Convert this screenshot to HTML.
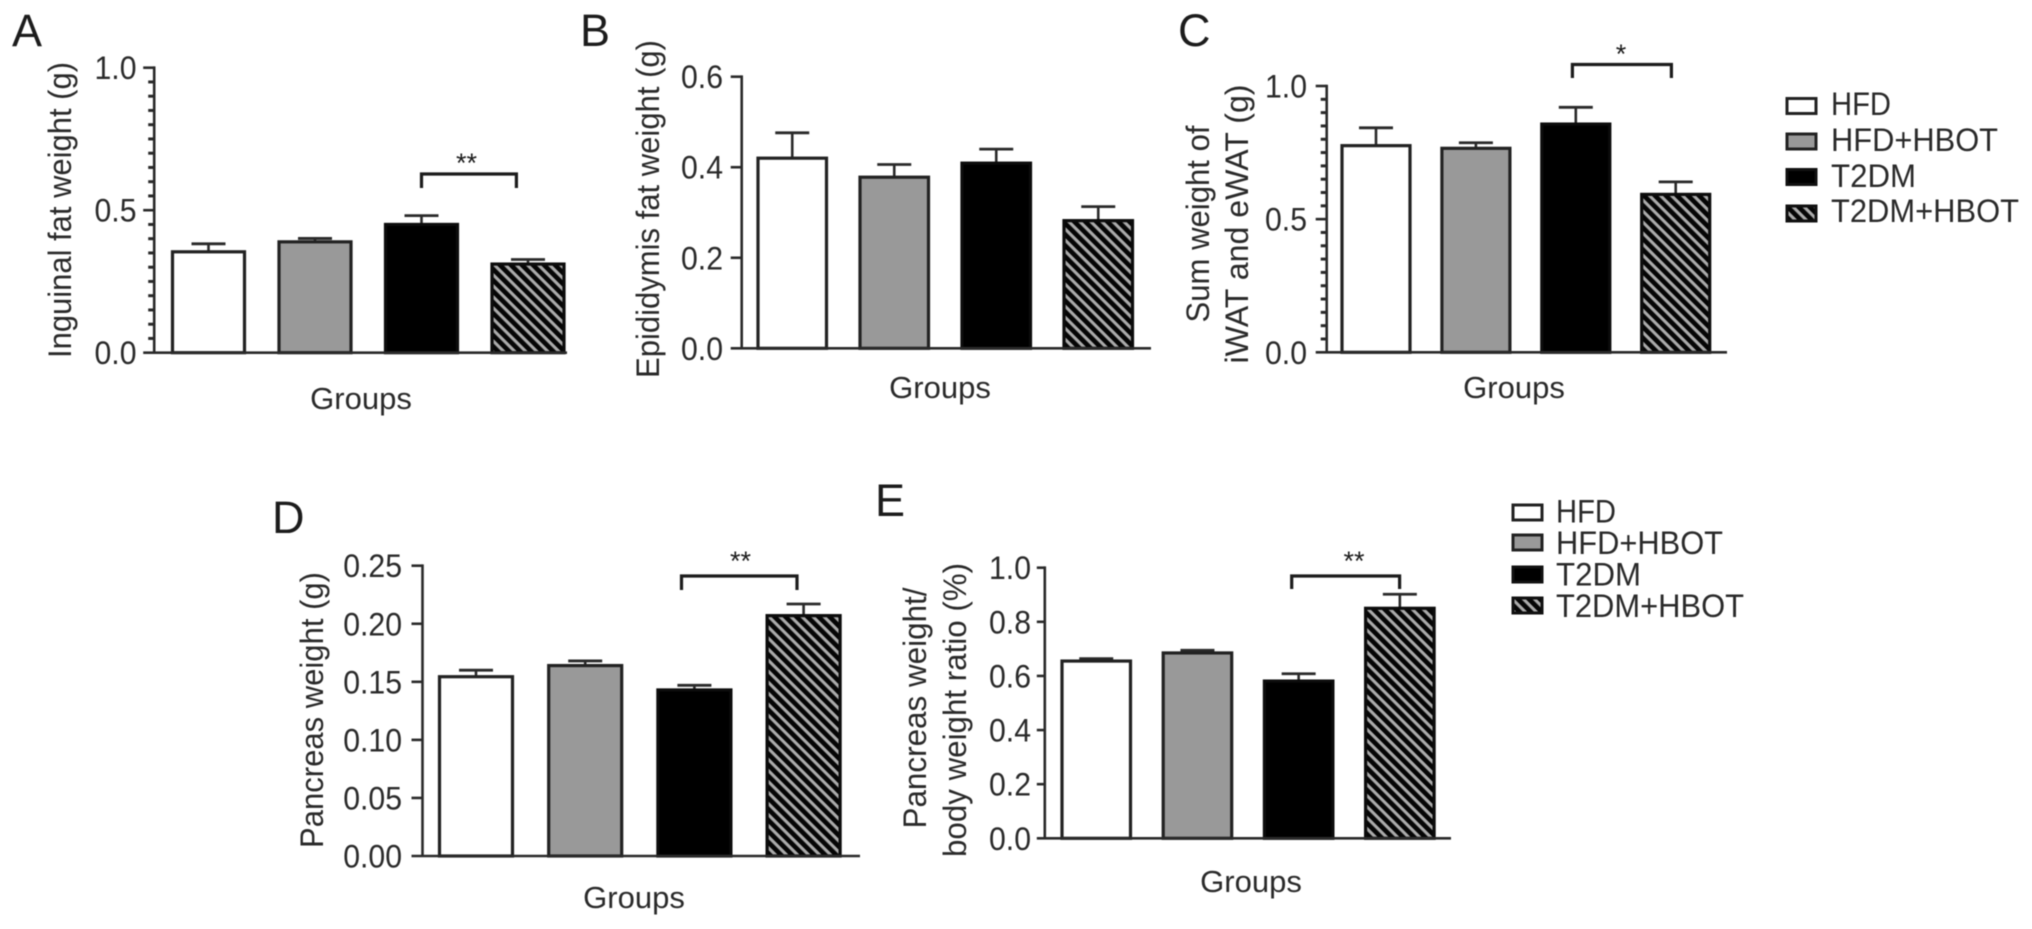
<!DOCTYPE html>
<html lang="en">
<head>
<meta charset="utf-8">
<title>Fat and pancreas weight by group</title>
<style>
html,body{margin:0;padding:0;background:#fff;width:2032px;height:929px;overflow:hidden}
svg{display:block;filter:blur(0.6px)}
text{font-family:"Liberation Sans",sans-serif;fill:#2a2a2a}
.letter{font-size:45px;fill:#1c1c1c}
.title{font-size:32px}
.tick{font-size:32px;text-anchor:end}
.xt{font-size:31px;text-anchor:middle}
.leg{font-size:32px}
.star{font-size:27px;text-anchor:middle;fill:#1c1c1c}
</style>
</head>
<body>
<svg id="figure" xmlns="http://www.w3.org/2000/svg" width="2032" height="929" viewBox="0 0 2032 929">
<defs>
<pattern id="hatch" patternUnits="userSpaceOnUse" width="7.8" height="7.8" patternTransform="rotate(45)">
<rect width="7.8" height="7.8" fill="#050505"/>
<rect width="7.8" height="3.1" fill="#ababab"/>
</pattern>
</defs>
<rect width="2032" height="929" fill="#fff"/>

<text class="letter" x="12" y="46">A</text>
<text class="letter" x="580" y="46">B</text>
<text class="letter" x="1178" y="46">C</text>
<text class="letter" x="272" y="533">D</text>
<text class="letter" x="875" y="516">E</text>

<text class="title" transform="translate(71,210) rotate(-90)" text-anchor="middle" textLength="296" lengthAdjust="spacingAndGlyphs">Inguinal fat weight (g)</text>
<text class="title" transform="translate(659,209) rotate(-90)" text-anchor="middle" textLength="338" lengthAdjust="spacingAndGlyphs">Epididymis fat weight (g)</text>
<text class="title" transform="translate(1209,224) rotate(-90)" text-anchor="middle" textLength="197" lengthAdjust="spacingAndGlyphs">Sum weight of</text>
<text class="title" transform="translate(1248,224) rotate(-90)" text-anchor="middle" textLength="279" lengthAdjust="spacingAndGlyphs">iWAT and eWAT (g)</text>
<text class="title" transform="translate(323,710) rotate(-90)" text-anchor="middle" textLength="276" lengthAdjust="spacingAndGlyphs">Pancreas weight (g)</text>
<text class="title" transform="translate(926,708) rotate(-90)" text-anchor="middle" textLength="241" lengthAdjust="spacingAndGlyphs">Pancreas weight/</text>
<text class="title" transform="translate(966,710) rotate(-90)" text-anchor="middle" textLength="294" lengthAdjust="spacingAndGlyphs">body weight ratio (%)</text>

<text class="xt" x="361" y="409">Groups</text>
<text class="xt" x="940" y="398">Groups</text>
<text class="xt" x="1514" y="398">Groups</text>
<text class="xt" x="634" y="908">Groups</text>
<text class="xt" x="1251" y="892">Groups</text>

<text class="star" x="466.5" y="172">**</text>
<text class="star" x="1621" y="63">*</text>
<text class="star" x="740.5" y="570">**</text>
<text class="star" x="1354" y="570">**</text>

<g>
<g><rect x="1787" y="98.5" width="29" height="15" fill="#fff" stroke="#222" stroke-width="3"/><text class="leg" x="1831" y="115" textLength="60" lengthAdjust="spacingAndGlyphs">HFD</text></g>
<g><rect x="1787" y="134" width="29" height="15" fill="#999" stroke="#222" stroke-width="3"/><text class="leg" x="1831" y="151" textLength="167" lengthAdjust="spacingAndGlyphs">HFD+HBOT</text></g>
<g><rect x="1787" y="169.5" width="29" height="15" fill="#000" stroke="#111" stroke-width="3"/><text class="leg" x="1831" y="187" textLength="85" lengthAdjust="spacingAndGlyphs">T2DM</text></g>
<g><rect x="1787" y="206" width="29" height="15" fill="url(#hatch)" stroke="#111" stroke-width="3"/><text class="leg" x="1831" y="222" textLength="188" lengthAdjust="spacingAndGlyphs">T2DM+HBOT</text></g>
</g>

<g>
<g><rect x="1513" y="505" width="29" height="15" fill="#fff" stroke="#222" stroke-width="3"/><text class="leg" x="1556" y="522.5" textLength="60" lengthAdjust="spacingAndGlyphs">HFD</text></g>
<g><rect x="1513" y="535" width="29" height="15" fill="#999" stroke="#222" stroke-width="3"/><text class="leg" x="1556" y="554" textLength="167" lengthAdjust="spacingAndGlyphs">HFD+HBOT</text></g>
<g><rect x="1513" y="567" width="29" height="15" fill="#000" stroke="#111" stroke-width="3"/><text class="leg" x="1556" y="585.5" textLength="85" lengthAdjust="spacingAndGlyphs">T2DM</text></g>
<g><rect x="1513" y="598" width="29" height="15" fill="url(#hatch)" stroke="#111" stroke-width="3"/><text class="leg" x="1556" y="617" textLength="188" lengthAdjust="spacingAndGlyphs">T2DM+HBOT</text></g>
</g>
</svg>

<script>
const categories = ['HFD', 'HFD+HBOT', 'T2DM', 'T2DM+HBOT'];

const inguinalMeans = [0.354, 0.389, 0.450, 0.311];
const inguinalErrors = [0.028, 0.012, 0.031, 0.016];
const inguinalTicks = ['0.0', '0.5', '1.0'];

const epididymisMeans = [0.420, 0.378, 0.409, 0.282];
const epididymisErrors = [0.056, 0.028, 0.031, 0.031];
const epididymisTicks = ['0.0', '0.2', '0.4', '0.6'];

const sumMeans = [0.776, 0.766, 0.857, 0.593];
const sumErrors = [0.067, 0.021, 0.063, 0.047];
const sumTicks = ['0.0', '0.5', '1.0'];

const pancreasMeans = [0.1544, 0.164, 0.143, 0.207];
const pancreasErrors = [0.0056, 0.004, 0.004, 0.010];
const pancreasTicks = ['0.00', '0.05', '0.10', '0.15', '0.20', '0.25'];

const ratioMeans = [0.655, 0.685, 0.581, 0.850];
const ratioErrors = [0.009, 0.010, 0.027, 0.052];
const ratioTicks = ['0.0', '0.2', '0.4', '0.6', '0.8', '1.0'];

const NS = 'http://www.w3.org/2000/svg';
const INK = '#2a2a2a';
const svg = document.getElementById('figure');

function lineEl(parent, x1, y1, x2, y2, width, color) {
  const el = document.createElementNS(NS, 'line');
  el.setAttribute('x1', x1);
  el.setAttribute('y1', y1);
  el.setAttribute('x2', x2);
  el.setAttribute('y2', y2);
  el.setAttribute('stroke', color || INK);
  el.setAttribute('stroke-width', width);
  parent.appendChild(el);
  return el;
}

function drawPanel(id, layout, means, errors, ticks, minorStep, bracket) {
  const group = document.createElementNS(NS, 'g');
  
  
  svg.appendChild(group);

  const yMax = parseFloat(ticks[ticks.length - 1]);
  const yScale = v => layout.bottom - (v / yMax) * (layout.bottom - layout.top);
  const xLeft = i => layout.firstBar + i * layout.step;

  const fills = ['#fff', '#999', '#000', 'url(#hatch)'];
  categories.forEach((name, i) => {
    const slug = name.toLowerCase().replace('+', '-');
    const yTop = yScale(means[i]);
    const yErr = yScale(means[i] + errors[i]);
    const cx = xLeft(i) + layout.barWidth / 2;

    const stem = lineEl(group, cx, yTop, cx, yErr, 2.6);
    
    
    const cap = lineEl(group, cx - 17, yErr, cx + 17, yErr, 2.8);
    
    

    const bar = document.createElementNS(NS, 'rect');
    bar.setAttribute('x', xLeft(i) + 1.5);
    bar.setAttribute('y', yTop);
    bar.setAttribute('width', layout.barWidth - 3);
    bar.setAttribute('height', layout.bottom - yTop);
    bar.setAttribute('fill', fills[i]);
    bar.setAttribute('stroke', i >= 2 ? '#0c0c0c' : '#222');
    bar.setAttribute('stroke-width', 3.2);
    
    
    group.appendChild(bar);
  });

  const yAxis = lineEl(group, layout.axisX, layout.top - 1.3, layout.axisX, layout.bottom, 2.6);
  
  
  const xAxis = lineEl(group, layout.axisX - layout.tickLen, layout.bottom, layout.xEnd, layout.bottom, 2.6);
  
  

  ticks.forEach(label => {
    const v = parseFloat(label);
    const y = yScale(v);
    if (v > 0) {
      const tick = lineEl(group, layout.axisX - layout.tickLen, y, layout.axisX, y, 2.6);
      
      
    }
    const text = document.createElementNS(NS, 'text');
    text.setAttribute('class', 'tick');
    text.setAttribute('x', layout.labelRight);
    text.setAttribute('y', y + 11.5);
    text.setAttribute('textLength', (0.556 * (label.length - 1) + 0.278) * 30.2);
    text.setAttribute('lengthAdjust', 'spacingAndGlyphs');
    text.textContent = label;
    
    
    group.appendChild(text);
  });

  if (minorStep) {
    const count = Math.round(yMax / minorStep);
    for (let k = 1; k < count; k++) {
      if (k % 10 === 0) continue;
      const y = yScale(k * minorStep);
      const minor = lineEl(group, layout.axisX - 6, y, layout.axisX, y, 3);
      
      
    }
  }

  if (bracket) {
    const path = document.createElementNS(NS, 'path');
    path.setAttribute('d', 'M' + bracket.x1 + ' ' + bracket.low + 'V' + bracket.high + 'H' + bracket.x2 + 'V' + bracket.low);
    path.setAttribute('fill', 'none');
    path.setAttribute('stroke', '#1c1c1c');
    path.setAttribute('stroke-width', 3.2);
    
    
    group.appendChild(path);
  }
}

drawPanel('a',
  {axisX: 154.2, top: 67.7, bottom: 352.7, xEnd: 567, tickLen: 11, labelRight: 136.5, firstBar: 171, step: 106.5, barWidth: 75},
  inguinalMeans, inguinalErrors, inguinalTicks, 0.05,
  {x1: 421.5, x2: 516.4, high: 174, low: 188});

drawPanel('b',
  {axisX: 741.7, top: 76.7, bottom: 348.3, xEnd: 1151, tickLen: 11, labelRight: 723, firstBar: 756.5, step: 102, barWidth: 71.5},
  epididymisMeans, epididymisErrors, epididymisTicks, 0, null);

drawPanel('c',
  {axisX: 1326.7, top: 86, bottom: 352.3, xEnd: 1727, tickLen: 11, labelRight: 1307, firstBar: 1340.5, step: 99.9, barWidth: 71},
  sumMeans, sumErrors, sumTicks, 0.05,
  {x1: 1572.4, x2: 1671.4, high: 64.5, low: 78});

drawPanel('d',
  {axisX: 422.5, top: 565.7, bottom: 856, xEnd: 860, tickLen: 11, labelRight: 402, firstBar: 438, step: 109.2, barWidth: 76},
  pancreasMeans, pancreasErrors, pancreasTicks, 0,
  {x1: 681.5, x2: 797, high: 576, low: 590});

drawPanel('e',
  {axisX: 1044.8, top: 567.7, bottom: 838.3, xEnd: 1451, tickLen: 8, labelRight: 1031, firstBar: 1060.5, step: 101.2, barWidth: 71.5},
  ratioMeans, ratioErrors, ratioTicks, 0,
  {x1: 1291.7, x2: 1399.6, high: 576, low: 589});
</script>
</body>
</html>
